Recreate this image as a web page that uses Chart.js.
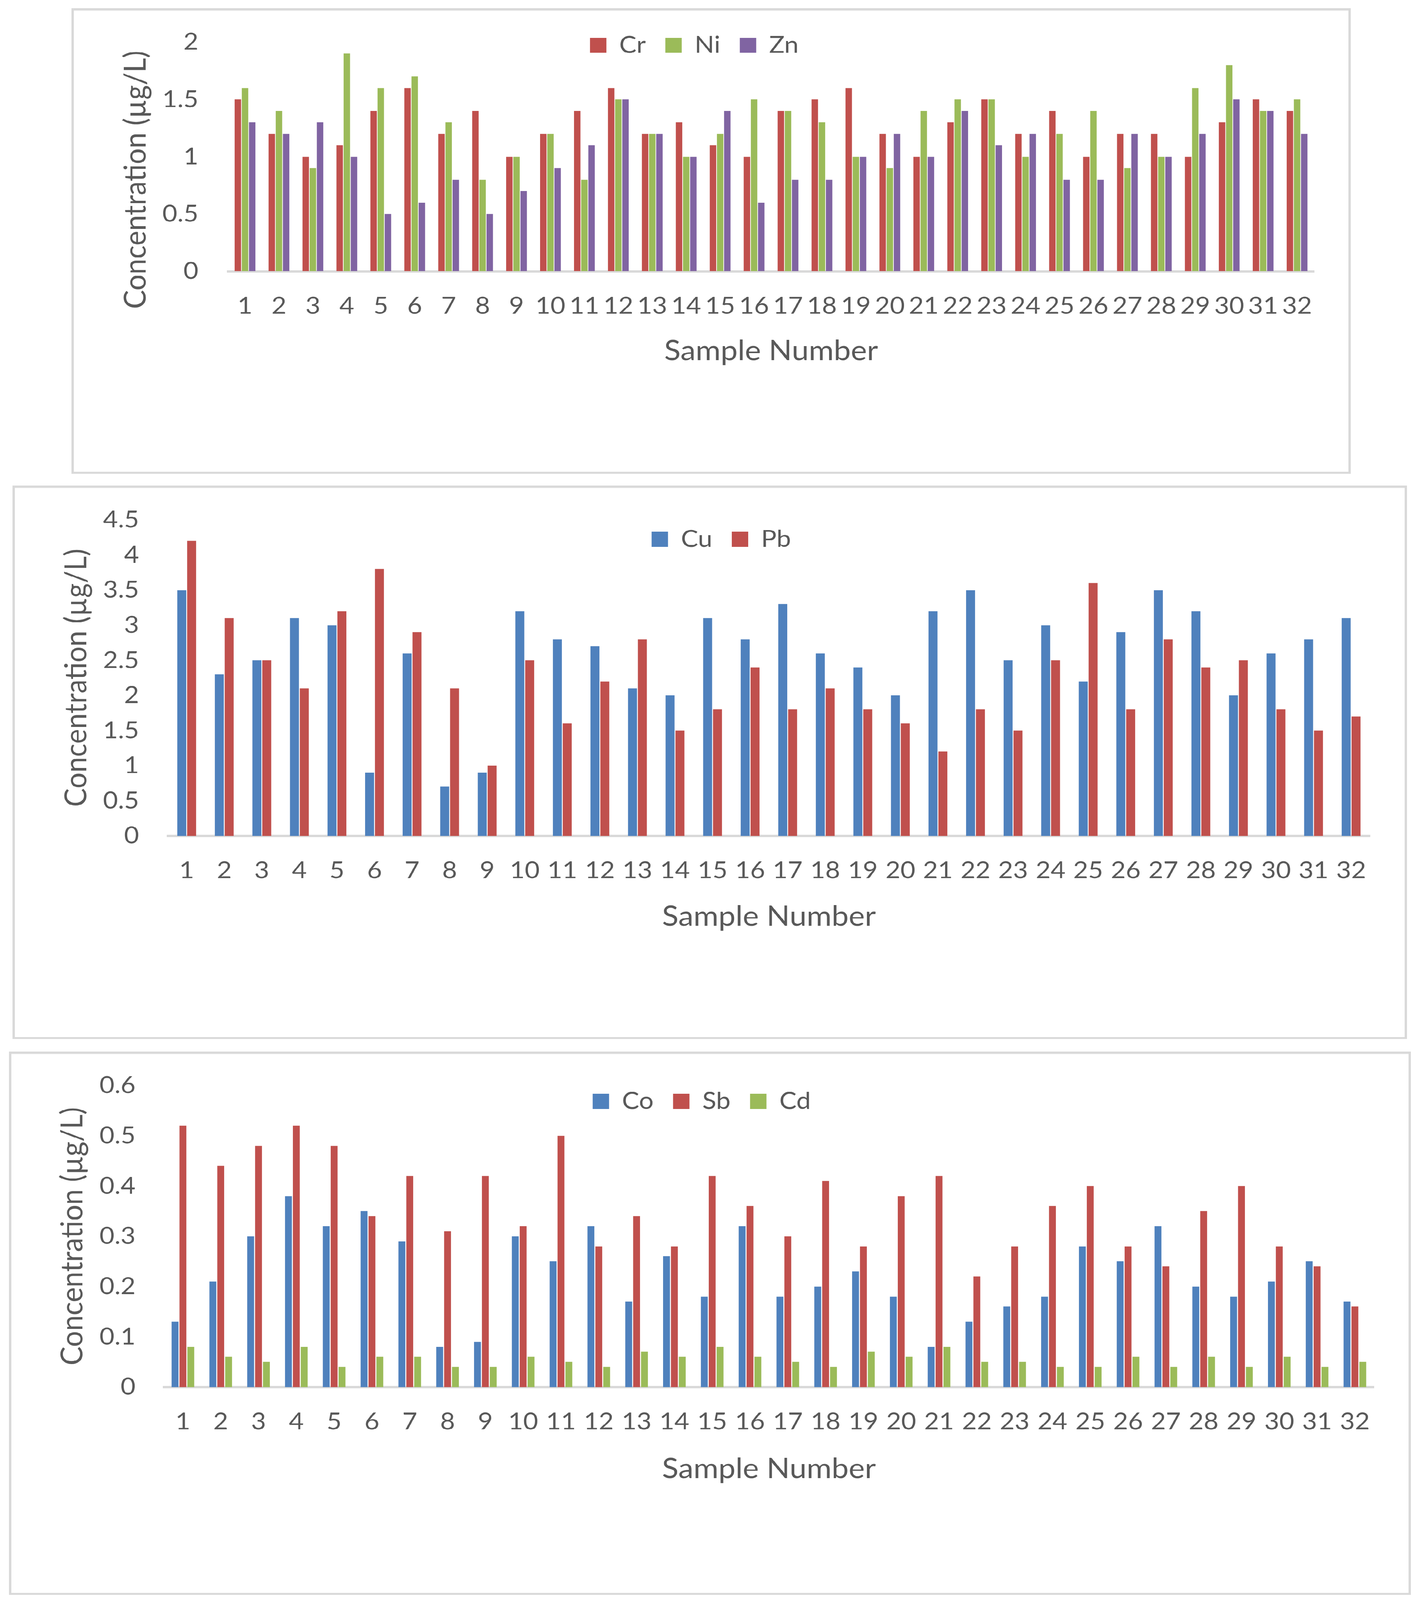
<!DOCTYPE html>
<html>
<head>
<meta charset="utf-8">
<title>Concentration by sample</title>
<script src="https://cdn.jsdelivr.net/npm/chart.js@4.4.1/dist/chart.umd.min.js"></script>
<style>
  html, body { margin: 0; padding: 0; background: #fff; overflow: hidden; }
  #page { position: absolute; left: 0; top: 0; width: 3644px; height: 4447px; transform-origin: 0 0; }
  canvas { position: absolute; }
  .frame { position: absolute; box-sizing: border-box; border: 6px solid #d9d9d9; pointer-events: none; }
</style>
</head>
<body>
<div id="page">
  <canvas id="c1"></canvas><div class="frame" id="f1"></div>
  <canvas id="c2"></canvas><div class="frame" id="f2"></div>
  <canvas id="c3"></canvas><div class="frame" id="f3"></div>
</div>
<script>
// sample numbers on the x axis
const samples = ['1','2','3','4','5','6','7','8','9','10','11','12','13','14','15','16',
                 '17','18','19','20','21','22','23','24','25','26','27','28','29','30','31','32'];

// chart 1
const crValues = [1.5,1.2,1.0,1.1,1.4,1.6,1.2,1.4,1.0,1.2,1.4,1.6,1.2,1.3,1.1,1.0,
                  1.4,1.5,1.6,1.2,1.0,1.3,1.5,1.2,1.4,1.0,1.2,1.2,1.0,1.3,1.5,1.4];
const niValues = [1.6,1.4,0.9,1.9,1.6,1.7,1.3,0.8,1.0,1.2,0.8,1.5,1.2,1.0,1.2,1.5,
                  1.4,1.3,1.0,0.9,1.4,1.5,1.5,1.0,1.2,1.4,0.9,1.0,1.6,1.8,1.4,1.5];
const znValues = [1.3,1.2,1.3,1.0,0.5,0.6,0.8,0.5,0.7,0.9,1.1,1.5,1.2,1.0,1.4,0.6,
                  0.8,0.8,1.0,1.2,1.0,1.4,1.1,1.2,0.8,0.8,1.2,1.0,1.2,1.5,1.4,1.2];
const ticks1 = [0, 0.5, 1, 1.5, 2];

// chart 2
const cuValues = [3.5,2.3,2.5,3.1,3.0,0.9,2.6,0.7,0.9,3.2,2.8,2.7,2.1,2.0,3.1,2.8,
                  3.3,2.6,2.4,2.0,3.2,3.5,2.5,3.0,2.2,2.9,3.5,3.2,2.0,2.6,2.8,3.1];
const pbValues = [4.2,3.1,2.5,2.1,3.2,3.8,2.9,2.1,1.0,2.5,1.6,2.2,2.8,1.5,1.8,2.4,
                  1.8,2.1,1.8,1.6,1.2,1.8,1.5,2.5,3.6,1.8,2.8,2.4,2.5,1.8,1.5,1.7];
const ticks2 = [0, 0.5, 1, 1.5, 2, 2.5, 3, 3.5, 4, 4.5];

// chart 3
const coValues = [0.13,0.21,0.30,0.38,0.32,0.35,0.29,0.08,0.09,0.30,0.25,0.32,0.17,0.26,0.18,0.32,
                  0.18,0.20,0.23,0.18,0.08,0.13,0.16,0.18,0.28,0.25,0.32,0.20,0.18,0.21,0.25,0.17];
const sbValues = [0.52,0.44,0.48,0.52,0.48,0.34,0.42,0.31,0.42,0.32,0.50,0.28,0.34,0.28,0.42,0.36,
                  0.30,0.41,0.28,0.38,0.42,0.22,0.28,0.36,0.40,0.28,0.24,0.35,0.40,0.28,0.24,0.16];
const cdValues = [0.08,0.06,0.05,0.08,0.04,0.06,0.06,0.04,0.04,0.06,0.05,0.04,0.07,0.06,0.08,0.06,
                  0.05,0.04,0.07,0.06,0.08,0.05,0.05,0.04,0.04,0.06,0.04,0.06,0.04,0.06,0.04,0.05];
const ticks3 = [0, 0.1, 0.2, 0.3, 0.4, 0.5, 0.6];

const RED = '#C0504D', GREEN = '#9BBB59', PURPLE = '#8064A2', BLUE = '#4F81BD';

// frame and plot geometry for each panel (page px)
const panels = [
  { canvas: 'c1', frame: 'f1', box: [183, 23, 3276, 1294],
    plotLeft: 401, plotTop: 94, padRight: 94, xHeight: 269, padBottom: 294,
    yTickGap: 76, xTickGap: 57, yTitlePad: 118, yTitleShift: 64, legendX: 1595, legendY: 103,
    catPct: 0.633, barPct: 0.9, ticks: ticks1,
    series: [['Cr', crValues, RED], ['Ni', niValues, GREEN], ['Zn', znValues, PURPLE]] },
  { canvas: 'c2', frame: 'f2', box: [32, 1350, 3571, 1538],
    plotLeft: 398, plotTop: 95, padRight: 95, xHeight: 272, padBottom: 293,
    yTickGap: 74, xTickGap: 57, yTitlePad: 117, yTitleShift: 0, legendX: 1815, legendY: 149,
    catPct: 0.525, barPct: 0.91, ticks: ticks2,
    series: [['Cu', cuValues, BLUE], ['Pb', pbValues, RED]] },
  { canvas: 'c3', frame: 'f3', box: [23, 2923, 3590, 1510],
    plotLeft: 397, plotTop: 94, padRight: 95, xHeight: 275, padBottom: 303,
    yTickGap: 73, xTickGap: 57, yTitlePad: 116, yTitleShift: 0, legendX: 1774, legendY: 138,
    catPct: 0.625, barPct: 0.873, ticks: ticks3,
    series: [['Co', coValues, BLUE], ['Sb', sbValues, RED], ['Cd', cdValues, GREEN]] }
];

// fit the 3644x4447 page into whatever viewport we get
function fitPage() {
  const sx = window.innerWidth / 3644;
  const sy = window.innerHeight / 4447;
  document.getElementById('page').style.transform = 'scale(' + sx + ',' + sy + ')';
}

// moves the legend to the spot it has in the original (inside the plot, near the top)
const legendPlace = {
  id: 'legendPlace',
  afterUpdate(chart, args, opts) {
    const lg = chart.legend;
    if (!lg) return;
    const lab = lg.options.labels;
    const itemH = Math.max(lab.boxHeight || 0, lab.font.size || 0);
    lg.left = opts.x - 1200;
    lg.right = opts.x + 1200;
    lg.top = opts.y - lab.padding - itemH / 2;
    lg.bottom = lg.top + 2 * lab.padding + itemH + 10;
    lg.width = lg.right - lg.left;
    lg.height = lg.bottom - lg.top;
  }
};

// the first panel has its y title sitting lower than the plot centre
const yTitleShift = {
  id: 'yTitleShift',
  afterLayout(chart, args, opts) {
    const ys = chart.scales.y;
    if (!ys || ys._titleShifted || !opts.dy) return;
    const orig = ys.drawTitle;
    ys.drawTitle = function () {
      const t = this.top, b = this.bottom;
      this.top = t + opts.dy; this.bottom = b + opts.dy;
      orig.apply(this, arguments);
      this.top = t; this.bottom = b;
    };
    ys._titleShifted = true;
  }
};

function drawPanel(p) {
  const [left, top, w, h] = p.box;
  const cv = document.getElementById(p.canvas);
  const fr = document.getElementById(p.frame);
  cv.width = w; cv.height = h;
  cv.style.left = left + 'px'; cv.style.top = top + 'px';
  cv.style.width = w + 'px'; cv.style.height = h + 'px';
  fr.style.left = left + 'px'; fr.style.top = top + 'px';
  fr.style.width = w + 'px'; fr.style.height = h + 'px';

  new Chart(cv.getContext('2d'), {
    type: 'bar',
    data: {
      labels: samples,
      datasets: p.series.map(s => ({
        label: s[0],
        data: s[1],
        backgroundColor: s[2],
        borderWidth: 0,
        categoryPercentage: p.catPct,
        barPercentage: p.barPct
      }))
    },
    options: {
      responsive: false,
      animation: false,
      devicePixelRatio: 1,
      layout: {
        autoPadding: false,
        padding: { left: 0, top: p.plotTop - 1, right: p.padRight, bottom: p.padBottom }
      },
      plugins: {
        tooltip: { enabled: false },
        legend: {
          position: 'top',
          maxHeight: 1,
          labels: { boxWidth: 42, boxHeight: 42, padding: 50, color: '#595959',
                    font: { family: 'Lato', size: 66 } }
        },
        legendPlace: { x: p.legendX, y: p.legendY },
        yTitleShift: { dy: p.yTitleShift }
      },
      scales: {
        x: {
          // tick marks are hidden with the grid; tickLength only spaces the labels
          grid: { display: false, drawTicks: true, tickLength: p.xTickGap },
          border: { display: true, color: '#d9d9d9', width: 7 },
          ticks: { color: '#595959', font: { family: 'Lato', size: 66 }, padding: 0,
                   autoSkip: false, maxRotation: 0 },
          title: { display: true, text: 'Sample Number', color: '#595959',
                   font: { family: 'Lato', size: 78 }, padding: { top: 0, bottom: 0 } },
          afterFit: scale => { scale.height = p.xHeight; }
        },
        y: {
          min: p.ticks[0],
          max: p.ticks[p.ticks.length - 1],
          grid: { display: false, drawTicks: true, tickLength: p.yTickGap },
          border: { display: false },
          ticks: { stepSize: p.ticks[1] - p.ticks[0], color: '#595959',
                   font: { family: 'Lato', size: 66 }, padding: 0,
                   callback: v => String(Math.round(v * 100) / 100) },
          title: { display: true, text: 'Concentration (µg/L)', color: '#595959',
                   font: { family: 'Lato', size: 78 }, padding: { top: p.yTitlePad, bottom: 0 } },
          afterFit: scale => { scale.width = p.plotLeft; }
        }
      }
    },
    plugins: [legendPlace, yTitleShift]
  });
}

function drawAll() { fitPage(); panels.forEach(drawPanel); }

if (document.fonts && document.fonts.load) {
  Promise.all([document.fonts.load('66px Lato'), document.fonts.load('78px Lato')])
    .then(drawAll, drawAll);
} else {
  drawAll();
}
</script>
</body>
</html>
